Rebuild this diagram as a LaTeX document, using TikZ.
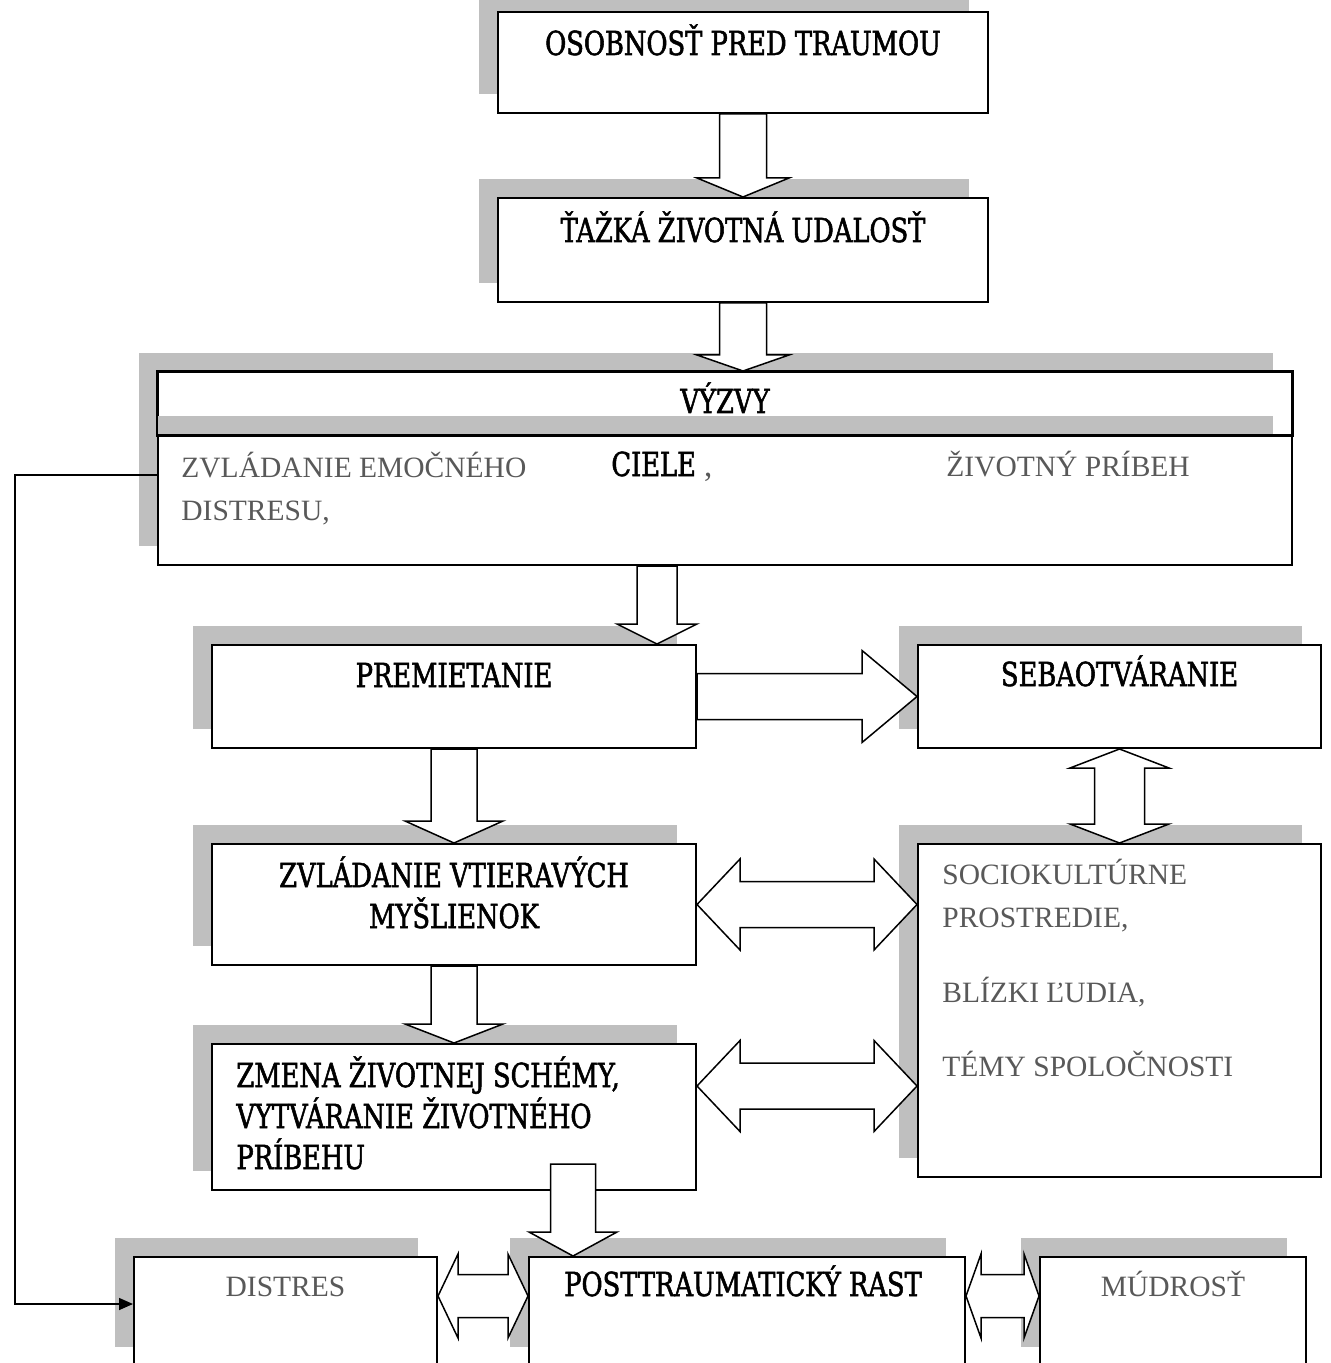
\documentclass[tikz,border=0pt]{standalone}
\usepackage{fontspec}
\newfontfamily\headfont{DejaVu Serif}[FakeStretch=0.78, FakeBold=1.6]
\newfontfamily\notefont{Liberation Serif}
\usepackage{tikz}
\usetikzlibrary{calc}
\usetikzlibrary{fit}
\usetikzlibrary{shadows}
\usetikzlibrary{arrows.meta}
\usepackage{xcolor}
\definecolor{shadowgrey}{RGB}{191, 191, 191}
\definecolor{textgrey}{RGB}{89, 89, 89}

% one pixel of the layout
\newcommand{\pxs}{0.5pt}
% block arrows: #3 half shaft, #4 half head, #5 head length (pixels)
\newcommand{\blkdown}[5]{%
  \draw[blockarrow] let \p1=(#1), \p2=(#2) in
    (\x2-#3*\pxs,\y1) -- (\x2-#3*\pxs,\y2+#5*\pxs) -- (\x2-#4*\pxs,\y2+#5*\pxs) -- (\x2,\y2)
    -- (\x2+#4*\pxs,\y2+#5*\pxs) -- (\x2+#3*\pxs,\y2+#5*\pxs) -- (\x2+#3*\pxs,\y1) -- cycle;}
\newcommand{\blkright}[5]{%
  \draw[blockarrow] let \p1=(#1), \p2=(#2) in
    (\x1,\y2+#3*\pxs) -- (\x2-#5*\pxs,\y2+#3*\pxs) -- (\x2-#5*\pxs,\y2+#4*\pxs) -- (\x2,\y2)
    -- (\x2-#5*\pxs,\y2-#4*\pxs) -- (\x2-#5*\pxs,\y2-#3*\pxs) -- (\x1,\y2-#3*\pxs) -- cycle;}
\newcommand{\blkvert}[5]{%
  \draw[blockarrow] let \p1=(#1), \p2=(#2) in
    (\x1,\y1) -- (\x1+#4*\pxs,\y1-#5*\pxs) -- (\x1+#3*\pxs,\y1-#5*\pxs) -- (\x1+#3*\pxs,\y2+#5*\pxs)
    -- (\x1+#4*\pxs,\y2+#5*\pxs) -- (\x1,\y2) -- (\x1-#4*\pxs,\y2+#5*\pxs) -- (\x1-#3*\pxs,\y2+#5*\pxs)
    -- (\x1-#3*\pxs,\y1-#5*\pxs) -- (\x1-#4*\pxs,\y1-#5*\pxs) -- cycle;}
\newcommand{\blkhoriz}[5]{%
  \draw[blockarrow] let \p1=(#1), \p2=(#2) in
    (\x1,\y1) -- (\x1+#5*\pxs,\y1+#4*\pxs) -- (\x1+#5*\pxs,\y1+#3*\pxs) -- (\x2-#5*\pxs,\y1+#3*\pxs)
    -- (\x2-#5*\pxs,\y1+#4*\pxs) -- (\x2,\y1) -- (\x2-#5*\pxs,\y1-#4*\pxs) -- (\x2-#5*\pxs,\y1-#3*\pxs)
    -- (\x1+#5*\pxs,\y1-#3*\pxs) -- (\x1+#5*\pxs,\y1-#4*\pxs) -- cycle;}

\begin{document}
\begin{tikzpicture}[x=0.5pt, y=-0.5pt,
    box/.style={draw, line width=1pt, fill=white, inner sep=0pt,
                drop shadow={shadow xshift=-9.5pt, shadow yshift=9.5pt, opacity=1, fill=shadowgrey}},
    blockarrow/.style={draw, line width=0.75pt, fill=white, line join=miter},
    headtxt/.style={font=\headfont\fontsize{16.5}{20.5}\selectfont, inner sep=0pt},
    notetxt/.style={font=\notefont\fontsize{14.75}{21.5}\selectfont, text=textgrey, inner sep=0pt},
    feedback/.style={line width=0.75pt, -{Triangle[length=7pt, width=6pt]}}]
            % Frame (pixel layout, y runs down):
            \useasboundingbox                                  (0, 0) rectangle (1330, 1363);
            % Boxes:
            \node[box, fit={( 498,   12) ( 988,  113)}] (osob)    {};
            \node[box, fit={( 498,  198) ( 988,  302)}] (tazka)   {};
            \node[box, fit={( 158,  372) (1292,  435)}] (vyzvyA)  {};
            \node[box, fit={( 158,  435) (1292,  565)}] (vyzvyB)  {};
            \draw[line width=1pt] (vyzvyA.north west) rectangle (vyzvyA.south east);
            \node[box, fit={( 212,  645) ( 696,  748)}] (prem)    {};
            \node[box, fit={( 918,  645) (1321,  748)}] (seba)    {};
            \node[box, fit={( 212,  844) ( 696,  965)}] (zvlad)   {};
            \node[box, fit={( 918,  844) (1321, 1177)}] (socio)   {};
            \node[box, fit={( 212, 1044) ( 696, 1190)}] (zmena)   {};
            \node[box, fit={( 134, 1257) ( 437, 1366)}] (distres) {};
            \node[box, fit={( 529, 1257) ( 965, 1366)}] (rast)    {};
            \node[box, fit={(1040, 1257) (1306, 1366)}] (mudrost) {};
            % Texts (base = last line):
            \node[headtxt, anchor=base]      (osobT)    at ($(osob.north)+(0, 44)$)          {OSOBNOSŤ PRED TRAUMOU};
            \node[headtxt, anchor=base]      (tazkaT)   at ($(tazka.north)+(0, 45)$)         {ŤAŽKÁ ŽIVOTNÁ UDALOSŤ};
            \node[headtxt, anchor=base]      (vyzvyT)   at ($(vyzvyA.north)+(0, 42)$)        {VÝZVY};
            \node[notetxt, anchor=base west, align=left]
                                             (emocT)    at ($(vyzvyB.north west)+(24, 86)$)  {ZVLÁDANIE EMOČNÉHO\\DISTRESU,};
            \node[headtxt, anchor=base west] (cieleT)   at ($(vyzvyB.north west)+(454, 42)$) {CIELE\textcolor{textgrey}{\notefont\ ,}};
            \node[notetxt, anchor=base west] (pribehT)  at ($(vyzvyB.north west)+(789, 42)$) {ŽIVOTNÝ PRÍBEH};
            \node[headtxt, anchor=base]      (premT)    at ($(prem.north)+(0, 43)$)          {PREMIETANIE};
            \node[headtxt, anchor=base]      (sebaT)    at ($(seba.north)+(0, 42)$)          {SEBAOTVÁRANIE};
            \node[headtxt, anchor=base, align=center]
                                             (zvladT)   at ($(zvlad.north)+(0, 85)$)         {ZVLÁDANIE VTIERAVÝCH\\MYŠLIENOK};
            \node[notetxt, anchor=base west, align=left]
                                             (socioT)   at ($(socio.north west)+(25, 233)$)  {SOCIOKULTÚRNE\\PROSTREDIE,\\[16pt]BLÍZKI ĽUDIA,\\[15.5pt]TÉMY SPOLOČNOSTI};
            \node[headtxt, anchor=base west, align=left]
                                             (zmenaT)   at ($(zmena.north west)+(25, 126)$)  {ZMENA ŽIVOTNEJ SCHÉMY,\\VYTVÁRANIE ŽIVOTNÉHO\\PRÍBEHU};
            \node[notetxt, anchor=base]      (distresT) at ($(distres.north)+(0, 40)$)       {DISTRES};
            \node[headtxt, anchor=base]      (rastT)    at ($(rast.north)+(-4, 40)$)         {POSTTRAUMATICKÝ RAST};
            \node[notetxt, anchor=base]      (mudrostT) at ($(mudrost.north)+(0, 40)$)       {MÚDROSŤ};
            % Block arrows:
            \blkdown{osob.south}{tazka.north}{23.5}{46}{19}
            \blkdown{tazka.south}{tazka.south |- vyzvyA.north}{23.5}{46}{16}
            \blkdown{vyzvyB.south}{$(prem.north east)+(-40, 0)$}{20}{40}{20}
            \blkdown{prem.south}{zvlad.north}{23}{49}{22}
            \blkdown{zvlad.south}{zmena.north}{23}{49}{19}
            \blkdown{$(zmena.south)+(0, -27)$}{$(rast.north west)+(45, 0)$}{22.5}{44}{24}
            \blkright{prem.east}{seba.west}{23}{46}{55}
            \blkvert{seba.south}{socio.north}{25}{49.5}{19}
            \blkhoriz{zvlad.east}{socio.west}{23}{45.5}{43}
            \blkhoriz{$(zmena.north east)+(0, 43)$}{socio.west}{23}{45.5}{43}
            \blkhoriz{$(distres.north east)+(0, 40)$}{rast.west}{21.5}{42}{20}
            \blkhoriz{$(rast.north east)+(0, 40)$}{mudrost.west}{21.5}{42}{15}
            % Feedback line:
            \draw[feedback] ($(vyzvyB.north west)+(0, 41)$) -- ++(-142, 0) |- ($(distres.north west)+(0, 48)$);
\end{tikzpicture}
\end{document}
